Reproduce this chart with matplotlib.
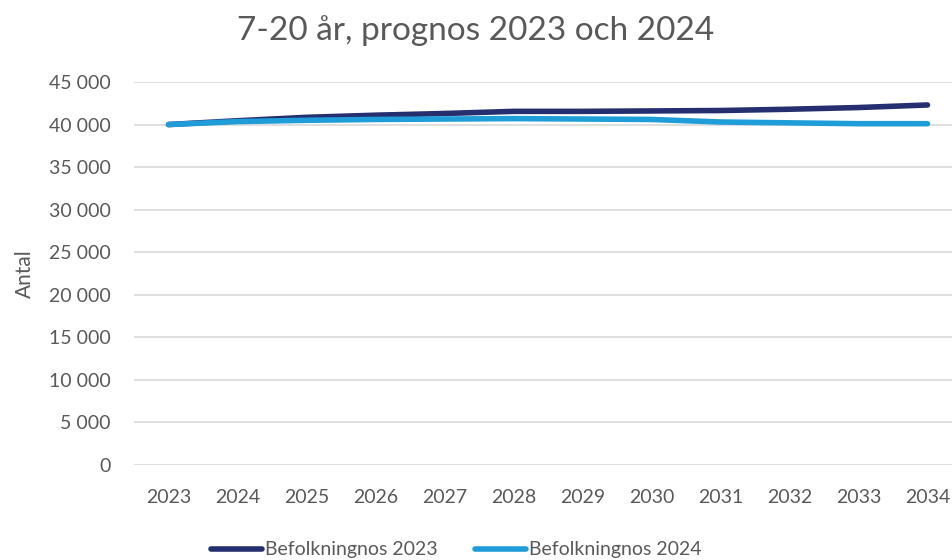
import matplotlib.pyplot as plt
from matplotlib.ticker import FuncFormatter

plt.rcParams['font.family'] = ['Lato', 'DejaVu Sans']

years = ['2023', '2024', '2025', '2026', '2027', '2028', '2029', '2030', '2031', '2032', '2033', '2034']
prognos_2023 = [40000, 40450, 40850, 41100, 41300, 41550, 41550, 41600, 41650, 41800, 42000, 42300]
prognos_2024 = [40000, 40350, 40500, 40600, 40650, 40700, 40650, 40600, 40300, 40200, 40100, 40100]

fig = plt.figure(figsize=(9.52, 5.6), dpi=100)
ax = fig.add_axes([134 / 952, 95 / 560, 818 / 952, 383 / 560])

x = range(len(years))
ax.plot(x, prognos_2023, color='#252e6e', lw=4, solid_capstyle='round', label='Befolkningnos 2023')
ax.plot(x, prognos_2024, color='#1f9dd8', lw=4, solid_capstyle='round', label='Befolkningnos 2024')

ax.set_xlim(-0.5, 11.5 - 10 / 69.0)
ax.set_ylim(0, 45000)
ax.set_yticks(range(0, 45001, 5000))
ax.yaxis.set_major_formatter(FuncFormatter(lambda v, p: f'{int(v):,}'.replace(',', ' ')))
ax.set_xticks(list(x))
ax.set_xticklabels(years)
ax.grid(axis='y', color='#d9d9d9', lw=1.2)
ax.set_axisbelow(True)
for s in ax.spines.values():
    s.set_visible(False)
ax.tick_params(length=0, labelsize=14, colors='#595959')
ax.tick_params(axis='x', pad=17)
ax.tick_params(axis='y', pad=17)

ax.set_ylabel('Antal', fontsize=15, color='#595959', labelpad=10)
fig.text(0.5, 0.945, '7-20 år, prognos 2023 och 2024', ha='center', va='center', fontsize=24, color='#595959')

fig.legend(loc='center', bbox_to_anchor=(0.4795, 0.018), ncol=2, frameon=False, fontsize=14,
           handlelength=2.6, handletextpad=0.2, columnspacing=1.9, labelcolor='#595959')

fig.savefig('out.png', dpi=100)
